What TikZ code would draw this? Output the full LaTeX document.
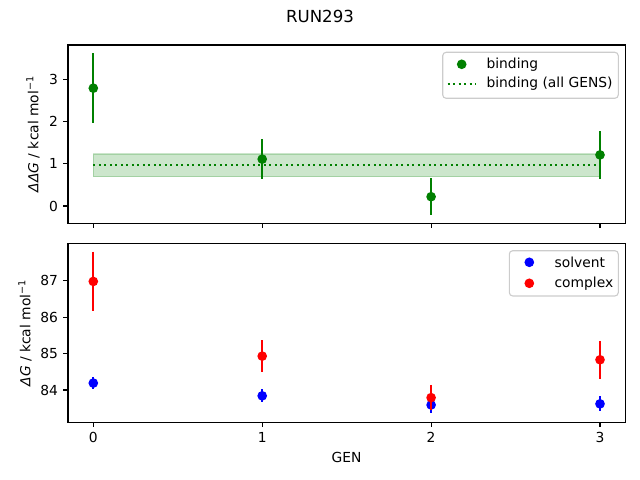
\documentclass[tikz,border=0pt]{standalone}
\usepackage{fontspec}
\setmainfont{DejaVu Sans}
\usepackage{xcolor}

\definecolor{mplgreen}{RGB}{0,128,0}
\definecolor{mplblue}{RGB}{0,0,255}
\definecolor{mplred}{RGB}{255,0,0}
\definecolor{legendedge}{RGB}{204,204,204}

\begin{document}
\begin{tikzpicture}[x=0.72bp,y=0.72bp,yscale=-1,xscale=1,
    spine/.style={line width=0.8pt, line cap=rect},
    tickmark/.style={line width=0.8pt},
    errbar/.style={line width=1.5pt},
    ticklabel/.style={font=\fontsize{10}{12}\selectfont, inner sep=0pt},
    axlabel/.style={font=\fontsize{10}{12}\selectfont, inner sep=0pt},
    legendbox/.style={draw=legendedge, line width=0.8pt, fill=white, fill opacity=0.8, rounded corners=2.5pt}]
    \path[use as bounding box] (0,0) rectangle (640,480);

    % Title
    \node[font=\fontsize{12}{14}\selectfont, inner sep=0pt] (title) at (320,16) {RUN293};

    %Top axes: band and dotted line
    \path[fill=mplgreen, fill opacity=0.2, draw=mplgreen, draw opacity=0.2, line width=1pt] (93.3,154) rectangle (600,176.7);
    \draw[mplgreen, line width=1.5pt, dash pattern={on 1.5pt off 2.475pt}] (93.3,165) -- (600,165);

    %Top axes: binding points
    \foreach \g/\v/\e in {0/2.79/0.83, 1/1.11/0.47, 2/0.22/0.44, 3/1.21/0.56} {
        \draw[errbar, mplgreen] ({93.3+168.9*\g},{206-42.23*(\v+\e)}) -- ({93.3+168.9*\g},{206-42.23*(\v-\e)});
        \fill[mplgreen] ({93.3+168.9*\g},{206-42.23*\v}) circle[radius=3.5pt];
    }

    %Top axes frame and ticks
    \draw[spine] (68,45) rectangle (625.7,223.3);
    \foreach \v in {0,1,2,3} {
        \draw[tickmark] (68,{206-42.23*\v}) -- (63.1,{206-42.23*\v});
        \node[ticklabel, anchor=east] (ytop\v) at (58.3,{206-42.23*\v}) {\v};
    }
    \foreach \g in {0,1,2,3} {
        \draw[tickmark] ({93.3+168.9*\g},223.3) -- ({93.3+168.9*\g},228.2);
    }
    % Text Node
    \node[axlabel, rotate=90] (ylabtop) at (33,134) {\textit{ΔΔG} / kcal mol\textsuperscript{−1}};

    %Top legend
    \draw[legendbox] (442.7,52.3) rectangle (618.3,98.3);
    \fill[mplgreen] (461.7,64.3) circle[radius=3.5pt];
    \draw[mplgreen, line width=1.5pt, dash pattern={on 1.5pt off 2.475pt}] (447.7,84) -- (475.5,84);
    \node[axlabel, anchor=west] (legbind) at (486.3,64.3) {binding};
    \node[axlabel, anchor=west] (legall) at (486.3,84) {binding (all GENS)};

    %Bottom axes: solvent then complex
    \foreach \g/\v/\e in {0/84.19/0.17, 1/83.84/0.18, 2/83.59/0.22, 3/83.62/0.21} {
        \draw[errbar, mplblue] ({93.3+168.9*\g},{390-36.43*(\v+\e-84)}) -- ({93.3+168.9*\g},{390-36.43*(\v-\e-84)});
        \fill[mplblue] ({93.3+168.9*\g},{390-36.43*(\v-84)}) circle[radius=3.5pt];
    }
    \foreach \g/\v/\e in {0/86.98/0.82, 1/84.93/0.44, 2/83.79/0.35, 3/84.83/0.52} {
        \draw[errbar, mplred] ({93.3+168.9*\g},{390-36.43*(\v+\e-84)}) -- ({93.3+168.9*\g},{390-36.43*(\v-\e-84)});
        \fill[mplred] ({93.3+168.9*\g},{390-36.43*(\v-84)}) circle[radius=3.5pt];
    }

    %Bottom axes frame and ticks
    \draw[spine] (68,243.3) rectangle (625.7,422.3);
    \foreach \v in {84,85,86,87} {
        \draw[tickmark] (68,{390-36.43*(\v-84)}) -- (63.1,{390-36.43*(\v-84)});
        \node[ticklabel, anchor=east] (ybot\v) at (58.3,{390-36.43*(\v-84)}) {\v};
    }
    \foreach \g in {0,1,2,3} {
        \draw[tickmark] ({93.3+168.9*\g},422.3) -- ({93.3+168.9*\g},427.2);
        \node[ticklabel, anchor=north] (xbot\g) at ({93.3+168.9*\g},432.1) {\g};
    }
    % Text Node
    \node[axlabel, rotate=90] (ylabbot) at (25,333) {\textit{ΔG} / kcal mol\textsuperscript{−1}};
    % Text Node
    \node[axlabel] (xlab) at (346.5,457.7) {GEN};

    %Bottom legend
    \draw[legendbox] (509.3,250.7) rectangle (618.3,296);
    \fill[mplblue] (529.3,262.3) circle[radius=3.5pt];
    \fill[mplred] (529.3,283.3) circle[radius=3.5pt];
    \node[axlabel, anchor=west] (legsolv) at (554.3,262.3) {solvent};
    \node[axlabel, anchor=west] (legcomp) at (554.3,283.3) {complex};
\end{tikzpicture}
\end{document}
